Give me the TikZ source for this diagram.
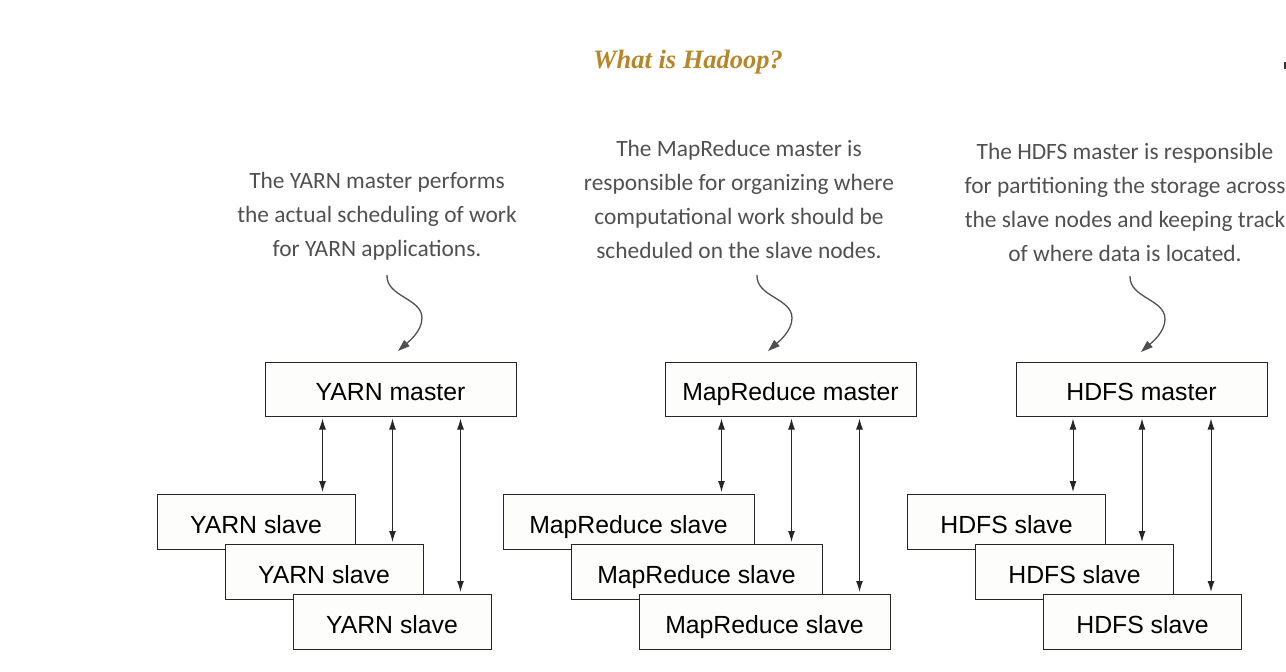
\documentclass[tikz,border=0pt]{standalone}
\usepackage{fontspec}
\setmainfont{Liberation Sans}
\newfontfamily\notefont{Carlito}
\newfontfamily\titlefont{Liberation Serif}
\usetikzlibrary{arrows.meta,calc}
\definecolor{titlegold}{HTML}{B5862A}
\definecolor{notegray}{HTML}{505050}
\definecolor{boxfill}{HTML}{FDFDFB}
\tikzset{
  box/.style={draw=black!85, line width=1pt, fill=boxfill, inner sep=0pt,
    font=\fontsize{24.8}{28}\selectfont, text height=22pt, text depth=0pt},
  master/.style={box, minimum width=251pt, minimum height=54pt},
  yslave/.style={box, minimum width=198pt, minimum height=55pt},
  mslave/.style={box, minimum width=251pt, minimum height=55pt},
  link/.style={{Latex[length=11pt,width=7pt]}-{Latex[length=11pt,width=7pt]}, line width=1pt, black!85, shorten <=2pt, shorten >=2pt},
  note/.style={align=center, text=notegray, font=\notefont\fontsize{23.4}{34}\selectfont},
  notearrow/.style={-{Triangle[length=12pt,width=8pt]}, notegray, line width=1.3pt},
}
\begin{document}
\begin{tikzpicture}[x=1pt,y=-1pt]
\useasboundingbox (0,0) rectangle (1286,672);
\fill[black!80] (1284,62) rectangle (1286,69);
% title
\node[text=titlegold, font=\titlefont\bfseries\itshape\fontsize{26.5}{30}\selectfont] (title) at (688,62) {What is Hadoop?};
% notes
\node[note] (ynote) at (377,216) {The YARN master performs\\the actual scheduling of work\\for YARN applications.};
\node[note] (mnote) at (739,199.5) {The MapReduce master is\\responsible for organizing where\\computational work should be\\scheduled on the slave nodes.};
\node[note] (hnote) at (1125,202.5) {The HDFS master is responsible\\for partitioning the storage across\\the slave nodes and keeping track\\of where data is located.};
% YARN
\node[master] (ym) at (390.5,389) {YARN master};
\node[yslave] (ys1) at (256,522) {YARN slave};
\node[yslave] (ys2) at (324,572) {YARN slave};
\node[yslave] (ys3) at (392,622) {YARN slave};
% MapReduce
\node[master] (mm) at (790.5,389) {MapReduce master};
\node[mslave] (ms1) at (628.5,522) {MapReduce slave};
\node[mslave] (ms2) at (696.5,572) {MapReduce slave};
\node[mslave] (ms3) at (764.5,622) {MapReduce slave};
% HDFS
\node[master] (hm) at (1141.5,389) {HDFS master};
\node[yslave] (hs1) at (1006.5,522) {HDFS slave};
\node[yslave] (hs2) at (1074.5,572) {HDFS slave};
\node[yslave] (hs3) at (1142.5,622) {HDFS slave};
% links
\foreach \m/\s/\d in {ym/ys1/33, ym/ys2/31, ym/ys3/31, mm/ms1/33, mm/ms2/31, mm/ms3/31, hm/hs1/33, hm/hs2/32, hm/hs3/31}{
  \coordinate (t-\s) at ($(\s.north east)+(-\d,0)$);
  \draw[link] (\m.south -| t-\s) -- (t-\s);
}
% note arrows
\coordinate (ya) at (387,275);
\coordinate (ma) at (757,275);
\coordinate (ha) at (1130,276);
\foreach \c in {ya,ma,ha}{
  \draw[notearrow] (\c) .. controls +(-1,22) and +(0,-20) .. ++(35,43) .. controls +(0,14) and +(9,-8) .. ++(-24,33);
}
\end{tikzpicture}
\end{document}
